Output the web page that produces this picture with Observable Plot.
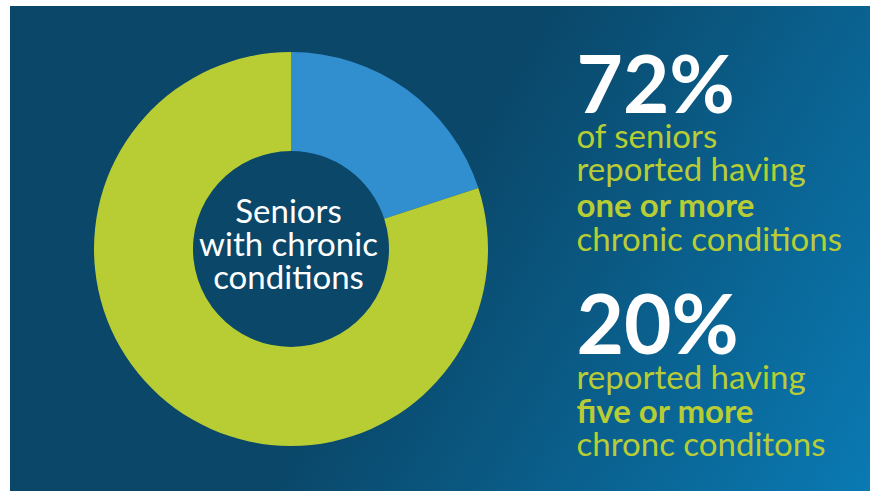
<!DOCTYPE html>
<html>
<head>
<meta charset="utf-8">
<script src="https://cdn.jsdelivr.net/npm/d3@7"></script>
<script src="https://cdn.jsdelivr.net/npm/@observablehq/plot@0.6"></script>
<style>
  html, body { margin: 0; padding: 0; background: #ffffff; }
  #card {
    position: absolute; left: 10px; top: 6px; width: 860px; height: 485px;
    background: linear-gradient(120deg, #0a4769 0%, #0a4769 47%, #0a7ab3 100%);
    overflow: hidden;
  }
  #card svg { background: transparent; }
</style>
</head>
<body>
<div id="card"></div>
<script>
// ---- data ----
const categories = ["Five or more chronic conditions", "Others"];
const values = [20, 80];
const sliceColors = ["#318ecf", "#b8cd34"];
const centerLabel = ["Seniors", "with chronic", "conditions"];
const stat1 = "72%";
const stat1Lines = ["of seniors", "reported having", "one or more", "chronic conditions"];
const stat1Bold = [false, false, true, false];
const stat2 = "20%";
const stat2Lines = ["reported having", "five or more", "chronc conditons"];
const stat2Bold = [false, true, false];

// ---- layout ----
const W = 860, H = 485;
const cx = 281, cy = 243, rOuter = 197, rInner = 98;
const font = "Lato, 'Open Sans', sans-serif";
const green = "#b8cd34";

const slices = categories.map((c, i) => ({category: c, value: values[i]}));

// donut as a custom render mark using Plot's scales
function donut(index, scales) {
  const pie = d3.pie().value(d => d.value).sort(null);
  const arc = d3.arc().innerRadius(rInner).outerRadius(rOuter);
  const g = d3.create("svg:g")
    .attr("transform", `translate(${scales.x(cx)},${scales.y(cy)})`);
  g.selectAll("path")
    .data(pie(slices))
    .join("path")
    .attr("d", arc)
    .attr("fill", d => scales.color(d.data.category));
  return g.node();
}

const FS_BIG = 80, FS_TXT = 33, FS_CTR = 33;
const rightX = 566;
const textRows = [];
textRows.push({text: stat1, y: 106, size: FS_BIG, bold: true, fill: "#ffffff"});
const b1 = [141, 174, 210, 244];
stat1Lines.forEach((t, i) => textRows.push({text: t, y: b1[i], size: FS_TXT, bold: stat1Bold[i], fill: green}));
textRows.push({text: stat2, y: 347, size: FS_BIG + 2, bold: true, fill: "#ffffff"});
const b2 = [382, 416, 449];
stat2Lines.forEach((t, i) => textRows.push({text: t, y: b2[i], size: FS_TXT, bold: stat2Bold[i], fill: green}));

const centerRows = centerLabel.map((t, i) => ({text: t, y: 216 + i * 33}));

const marks = [donut];
for (const r of textRows) {
  marks.push(Plot.text([r], {
    x: () => rightX, y: "y", text: "text",
    textAnchor: "start", lineAnchor: "bottom",
    fontSize: r.size, fontWeight: r.bold ? 700 : 400, fill: r.fill, fontFamily: font
  }));
}
marks.push(Plot.text(centerRows, {
  x: () => 278, y: "y", text: "text", textAnchor: "middle", lineAnchor: "bottom",
  fontSize: FS_CTR, fill: "#ffffff", fontFamily: font
}));

const chart = Plot.plot({
  width: W, height: H, margin: 0,
  x: {domain: [0, W], range: [0, W], axis: null},
  y: {domain: [0, H], range: [0, H], axis: null},
  color: {domain: categories, range: sliceColors},
  style: {background: "transparent", fontFamily: font},
  marks
});
document.getElementById("card").appendChild(chart);

// put text baselines exactly at y (remove Plot's line-anchor offsets)
chart.querySelectorAll("text").forEach(t => { t.removeAttribute("dy"); t.querySelectorAll("tspan").forEach(s => s.removeAttribute("dy")); });
</script>
</body>
</html>
